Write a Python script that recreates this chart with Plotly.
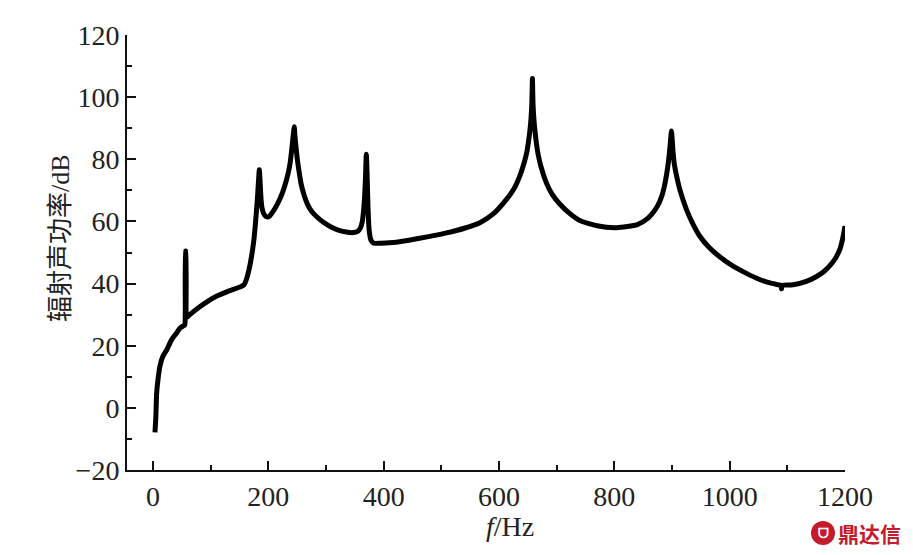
import plotly.graph_objects as go

# Frequency (Hz) and radiated sound power (dB)
freq = [3.5, 5, 6.4, 9, 12, 17, 24, 32, 41, 47, 52, 55, 56, 56.5, 57, 57.5, 58, 60, 64,
        80, 95, 110, 130, 151, 158, 162, 166, 171, 175, 178, 181, 183, 184.5, 186, 187.5,
        189, 192, 196, 201, 206, 212, 220, 226, 231, 235, 238, 240, 242, 244, 245, 246,
        248, 250, 253, 257, 262, 268, 275, 284, 295, 308, 320, 335, 347, 355, 360, 363,
        365, 367, 368.5, 370, 371.5, 373, 375, 378, 383, 395, 422, 460, 509, 540, 567,
        590, 613, 626, 636, 643, 648, 651, 653.5, 655.5, 657, 658, 659, 660.5, 662.5,
        665, 668, 673, 682, 692, 705, 723, 740, 770, 804, 840, 858, 867, 875, 882, 887,
        891, 894, 896, 897.5, 899, 900.5, 902, 904, 908, 914, 925, 936, 948, 965, 985,
        1006, 1030, 1052, 1070, 1085, 1089, 1090, 1091, 1095, 1110, 1133, 1150, 1163,
        1173, 1183, 1191, 1196, 1200]
power = [-7.9, -3, 4.7, 9.5, 13.3, 16.5, 18.7, 21.8, 24.1, 25.7, 26.3, 26.6, 30, 50.5,
         50.5, 30, 29.2, 29.3, 30, 32.4, 34.3, 35.9, 37.5, 38.9, 39.6, 41.3, 44, 48.8,
         54, 60, 67, 73, 76.6, 72, 67, 64.5, 62.5, 61.6, 61.5, 62.6, 64.3, 67.2, 70, 73,
         76, 79, 82, 85.5, 89, 90.5, 88, 84, 80.5, 76.5, 72, 68.5, 65.5, 63.3, 61.5,
         59.8, 58.3, 57.3, 56.6, 56.4, 56.8, 58, 60, 63, 68, 74, 81.6, 74, 64, 57, 54,
         53, 53, 53.3, 54.5, 56.3, 57.8, 59.6, 62.4, 67.1, 70.5, 74.6, 78.5, 82, 85.5,
         89, 93, 98, 106, 98, 93, 89, 85, 81.5, 77.5, 72.5, 68.8, 65.7, 62.5, 60.3, 58.6,
         58, 59, 61, 62.8, 65, 68, 71.5, 75.5, 79.5, 83, 86, 89.1, 86, 82, 78.5, 74.6,
         70, 63.9, 59.3, 55.3, 51.5, 48.3, 45.6, 43.2, 41.3, 40.2, 39.6, 39.4, 38.3,
         39.4, 39.5, 39.6, 40.7, 42.2, 43.8, 45.6, 48, 51, 54.5, 58.5]

x_ticks = [0, 200, 400, 600, 800, 1000, 1200]
y_ticks = [-20, 0, 20, 40, 60, 80, 100, 120]

serif = "Liberation Serif, Noto Sans CJK SC, serif"

fig = go.Figure()
fig.add_trace(go.Scatter(
    x=freq, y=power, mode="lines",
    line=dict(color="black", width=5, shape="spline", smoothing=0.6),
    hoverinfo="skip", showlegend=False,
))

axis_common = dict(
    showline=True, linecolor="#111", linewidth=2, mirror=False,
    ticks="inside", ticklen=9, tickwidth=2, tickcolor="#111",
    showgrid=False, zeroline=False,
    tickfont=dict(family=serif, size=28, color="#222"),
)

fig.update_xaxes(
    range=[-45, 1200], tickvals=x_ticks, ticktext=[str(v) for v in x_ticks],
    minor=dict(ticks="inside", ticklen=5, tickwidth=2, tickcolor="#111",
               tickvals=[100, 300, 500, 700, 900, 1100]),
    ticklabelstandoff=0,
    **axis_common,
)
fig.update_yaxes(
    range=[-20, 120], tickvals=y_ticks,
    ticktext=[("\u221220" if v < 0 else str(v)) for v in y_ticks],
    minor=dict(ticks="inside", ticklen=5, tickwidth=2, tickcolor="#111",
               tickvals=[-10, 10, 30, 50, 70, 90, 110]),
    ticklabelstandoff=0,
    **axis_common,
)

# figure is drawn inside an 8px page margin
W, H = 905, 547
L, R, T, B = 119, 68, 27, 85
pw, ph = W - L - R, H - T - B


def px(xw):
    return (xw - 8 - L) / pw


def py(yw):
    return (H - B - (yw - 8)) / ph


fig.update_layout(
    width=W, height=H,
    margin=dict(l=L, r=R, t=T, b=B),
    paper_bgcolor="white", plot_bgcolor="white",
    annotations=[
        dict(text="辐射声功率/dB", xref="paper", yref="paper",
             x=px(60), y=py(238), textangle=-90, showarrow=False,
             xanchor="center", yanchor="middle",
             font=dict(family=serif, size=26, color="#222")),
        dict(text="<i>f</i>/Hz", xref="paper", yref="paper",
             x=px(510), y=py(526), showarrow=False,
             xanchor="center", yanchor="middle",
             font=dict(family=serif, size=28, color="#222")),
        dict(text="<b>鼎达信</b>", xref="paper", yref="paper",
             x=px(903), y=py(533), showarrow=False,
             xanchor="right", yanchor="middle",
             font=dict(family="Noto Sans CJK SC", size=21, color="#c41a2b")),
        dict(text="<b>ᗜ</b>", xref="paper", yref="paper",
             x=px(823), y=py(533), showarrow=False,
             xanchor="center", yanchor="middle",
             font=dict(family="DejaVu Sans", size=13, color="white")),
    ],
    shapes=[
        dict(type="circle", xref="paper", yref="paper",
             x0=px(811), x1=px(835), y0=py(545), y1=py(521),
             fillcolor="#c41a2b", line=dict(width=0), layer="above"),
    ],
)

fig.write_html("out.html")
